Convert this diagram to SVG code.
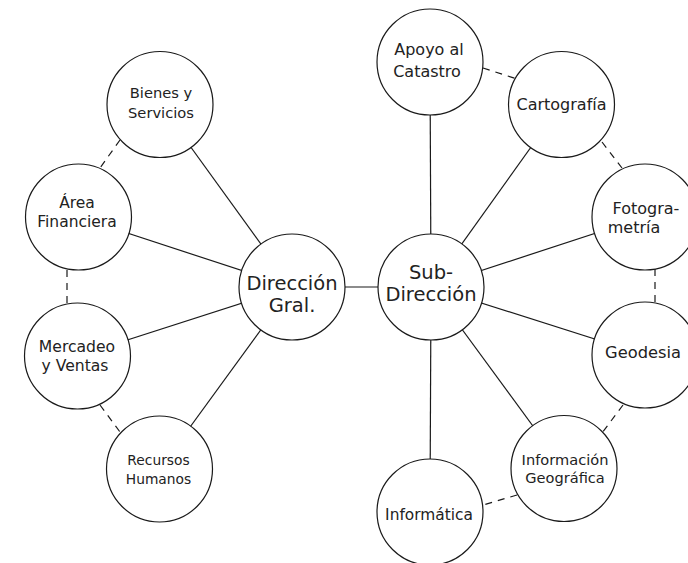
<svg xmlns="http://www.w3.org/2000/svg" width="688" height="563" viewBox="0 0 688 563">
<defs>
<style>
.node circle { fill: #ffffff; stroke: #1a1a1a; stroke-width: 1.2; }
.node text { font-family: 'DejaVu Sans', 'Liberation Sans', sans-serif; fill: #222222; text-anchor: middle; }
.solid { stroke: #1a1a1a; stroke-width: 1.2; fill: none; }
.dash { stroke: #1a1a1a; stroke-width: 1.2; fill: none; stroke-dasharray: 7 6; }
</style>
</defs>
<rect x="0" y="0" width="688" height="563" fill="#ffffff"/>
<g id="connectors">
  <line class="solid" x1="292" y1="287" x2="431" y2="287"/>
  <line class="solid" x1="292" y1="287" x2="160" y2="104.5"/>
  <line class="solid" x1="292" y1="287" x2="78.5" y2="217"/>
  <line class="solid" x1="292" y1="287" x2="77.5" y2="356"/>
  <line class="solid" x1="292" y1="287" x2="159.5" y2="469"/>
  <line class="solid" x1="431" y1="287" x2="430" y2="62"/>
  <line class="solid" x1="431" y1="287" x2="561.5" y2="104.5"/>
  <line class="solid" x1="431" y1="287" x2="645" y2="217"/>
  <line class="solid" x1="431" y1="287" x2="645" y2="355"/>
  <line class="solid" x1="431" y1="287" x2="564" y2="468.5"/>
  <line class="solid" x1="431" y1="287" x2="430" y2="512"/>
  <line class="dash" x1="120" y1="140" x2="100" y2="168"/>
  <line class="dash" x1="67" y1="270" x2="67" y2="304"/>
  <line class="dash" x1="100" y1="405" x2="120" y2="432"/>
  <line class="dash" x1="483" y1="68" x2="517" y2="79"/>
  <line class="dash" x1="602" y1="142" x2="622" y2="168"/>
  <line class="dash" x1="655" y1="269" x2="655" y2="303"/>
  <line class="dash" x1="623" y1="405" x2="602" y2="433"/>
  <line class="dash" x1="517" y1="495" x2="483" y2="505"/>
</g>
<g id="direccion-gral" class="node">
  <circle cx="292" cy="287" r="53"/>
  <text x="292" y="290" font-size="19.5">Dirección</text>
  <text x="292" y="312" font-size="19.5">Gral.</text>
</g>
<g id="sub-direccion" class="node">
  <circle cx="431" cy="287" r="53"/>
  <text x="431" y="279" font-size="19.5">Sub-</text>
  <text x="431" y="301" font-size="19.5">Dirección</text>
</g>
<g id="bienes-servicios" class="node">
  <circle cx="160" cy="104.5" r="53"/>
  <text x="161" y="98" font-size="14.7">Bienes y</text>
  <text x="161" y="118" font-size="14.7">Servicios</text>
</g>
<g id="area-financiera" class="node">
  <circle cx="78.5" cy="217" r="53"/>
  <text x="77" y="208" font-size="15.5">Área</text>
  <text x="77" y="227" font-size="15.5">Financiera</text>
</g>
<g id="mercadeo-ventas" class="node">
  <circle cx="77.5" cy="356" r="53"/>
  <text x="77" y="352" font-size="15.6">Mercadeo</text>
  <text x="75" y="371" font-size="15.6">y Ventas</text>
</g>
<g id="recursos-humanos" class="node">
  <circle cx="159.5" cy="469" r="53"/>
  <text x="158.5" y="465" font-size="13.8">Recursos</text>
  <text x="158.5" y="484" font-size="13.8">Humanos</text>
</g>
<g id="apoyo-catastro" class="node">
  <circle cx="430" cy="62" r="53"/>
  <text x="429" y="55" font-size="16">Apoyo al</text>
  <text x="427" y="77" font-size="16">Catastro</text>
</g>
<g id="cartografia" class="node">
  <circle cx="561.5" cy="104.5" r="53"/>
  <text x="561.5" y="110" font-size="16">Cartografía</text>
</g>
<g id="fotogrametria" class="node">
  <circle cx="645" cy="217" r="53"/>
  <text x="646" y="214" font-size="16">Fotogra-</text>
  <text x="634" y="233" font-size="16">metría</text>
</g>
<g id="geodesia" class="node">
  <circle cx="645" cy="355" r="53"/>
  <text x="643" y="358" font-size="16.3">Geodesia</text>
</g>
<g id="informacion-geografica" class="node">
  <circle cx="564" cy="468.5" r="53"/>
  <text x="565" y="465" font-size="14.6">Información</text>
  <text x="565" y="483" font-size="14.6">Geográfica</text>
</g>
<g id="informatica" class="node">
  <circle cx="430" cy="512" r="53"/>
  <text x="429" y="520" font-size="15.4">Informática</text>
</g>
</svg>
